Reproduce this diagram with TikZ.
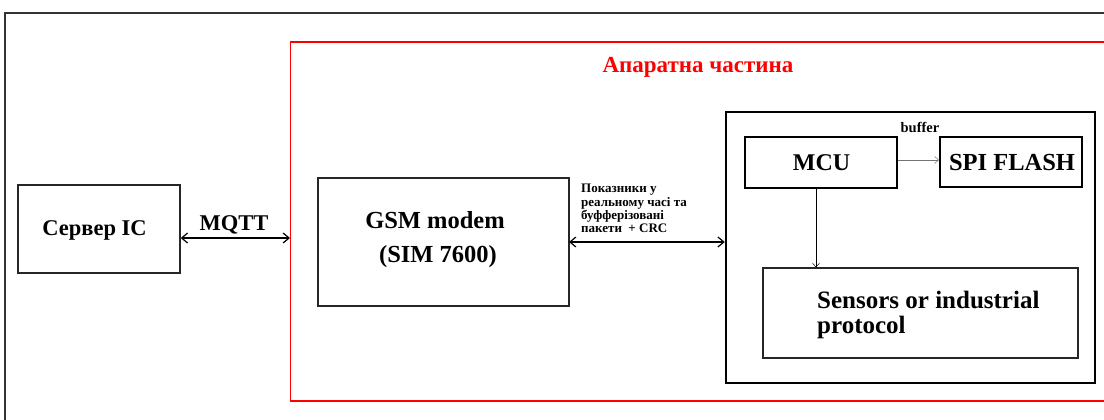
\documentclass[tikz,border=0pt]{standalone}
\usepackage{fontspec}
\setmainfont{Liberation Serif}
\usetikzlibrary{arrows.meta}
\begin{document}
\begin{tikzpicture}[x=1pt,y=-1pt,
  box/.style={draw=black!85, line width=1.3pt, inner sep=0pt},
  thickbox/.style={draw=black, line width=2.4pt, inner sep=0pt},
  lbl/.style={font=\bfseries, inner sep=0pt},
  biarrow/.style={line width=1.2pt, {Straight Barb[length=6pt,width=10pt]}-{Straight Barb[length=6pt,width=10pt]}},
  thinarrow/.style={line width=0.5pt, -{Straight Barb[length=4pt,width=7pt]}}]
\useasboundingbox (0,0) rectangle (1104,420);
% outer frame
\draw[black!80, line width=2pt] (5,430) -- (5,13) -- (1110,13);
% red frame
\draw[red, line width=1.5pt] (1110,42) -- (290.5,42) -- (290.5,401) -- (1110,401);
\node[lbl, text=red, font=\bfseries\fontsize{23}{26}\selectfont] (title) at (698,67) {Апаратна частина};
% server
\node[box, minimum width=162pt, minimum height=88pt] (srv) at (99,229) {};
\node[lbl, font=\bfseries\fontsize{22.5}{26}\selectfont] (srvt) at (94.5,230) {Сервер IC};
\coordinate (redL) at (290,238);
\draw[biarrow] (srv.east |- redL) -- (redL);
\node[lbl, font=\bfseries\fontsize{22.5}{26}\selectfont] (mqtt) at (234,225) {MQTT};
% GSM
\node[box, minimum width=251pt, minimum height=128pt] (gsm) at (443.5,242) {};
\node[lbl, font=\bfseries\fontsize{24.5}{28}\selectfont] (gsm1) at (435,220) {GSM modem};
\node[lbl, font=\bfseries\fontsize{24.5}{28}\selectfont] (gsm2) at (438,257) {(SIM 7600)};
% hardware box
\node[thickbox, minimum width=369pt, minimum height=271pt] (hw) at (910.5,247.5) {};
\coordinate (gsmR) at (569,242);
\draw[biarrow] (gsmR) -- (gsmR -| hw.west);
\node[lbl, align=left, anchor=north west, font=\bfseries\fontsize{13}{13.4}\selectfont] (rt) at (581,184) {Показники у\\реальному часі та\\буфферізовані\\пакети\ \ + CRC};
% MCU
\node[thickbox, line width=2pt, minimum width=152pt, minimum height=51pt] (mcu) at (821,162.5) {};
\node[lbl, font=\bfseries\fontsize{24}{28}\selectfont] (mcut) at (821.5,163) {MCU};
\node[thickbox, line width=2pt, minimum width=142pt, minimum height=50pt] (spi) at (1011,162) {};
\node[lbl, font=\bfseries\fontsize{24.5}{28}\selectfont] (spit) at (1012,163) {SPI FLASH};
\node[lbl, font=\bfseries\fontsize{14.5}{16}\selectfont] (buf) at (920,127) {buffer};
\draw[thinarrow, draw=black!55] (mcu.east |- 0,160) -- (spi.west |- 0,160);
% sensors
\node[box, line width=1.1pt, minimum width=315pt, minimum height=90pt] (sen) at (920.5,313) {};
\draw[thinarrow] (mcu.south -| 816,0) -- (sen.north -| 816,0);
\node[lbl, align=left, anchor=north west, font=\bfseries\fontsize{25}{25}\selectfont] (sent) at (817,290.5) {Sensors or industrial\\protocol};
\end{tikzpicture}
\end{document}
